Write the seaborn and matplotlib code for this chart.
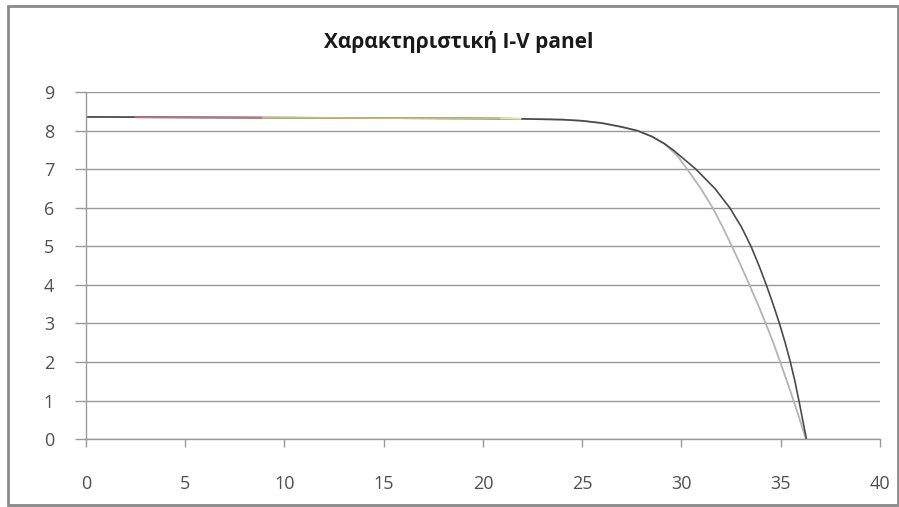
import matplotlib.pyplot as plt
import pandas as pd
import seaborn as sns
from matplotlib.patches import Rectangle

# Data
v_outer = [0, 5, 10, 15, 20, 22, 24, 25, 26, 27, 27.8, 28.52, 29.13, 29.59,
           30.74, 31.69, 32.44, 33.03, 33.51, 33.91, 34.28, 34.62, 34.94, 35.23,
           35.49, 35.72, 35.92, 36.11, 36.3]
i_outer = [8.36, 8.35, 8.34, 8.33, 8.32, 8.31, 8.29, 8.26, 8.2, 8.1, 8.0, 7.85,
           7.67, 7.5, 7.0, 6.5, 6.0, 5.5, 5.0, 4.5, 4.0, 3.5, 3.0, 2.5,
           2.0, 1.5, 1.0, 0.5, 0.0]
v_inner = [0, 5, 10, 15, 20, 22, 24, 25, 26, 27, 27.8, 28.52, 29.13, 29.8, 30.3,
           30.98, 31.58, 32.08, 32.55, 33.0, 33.43, 33.85, 34.25, 34.63, 34.98,
           35.32, 35.65, 35.97, 36.27]
i_inner = [8.36, 8.35, 8.34, 8.33, 8.32, 8.31, 8.29, 8.26, 8.2, 8.1, 8.0, 7.85,
           7.67, 7.35, 7.0, 6.5, 6.0, 5.5, 5.0, 4.5, 4.0, 3.5, 3.0, 2.5, 2.0,
           1.5, 1.0, 0.5, 0.0]
v_red = [2.5, 8.9]
i_red = [8.35, 8.34]
v_olive = [8.9, 20.9]
i_olive = [8.34, 8.32]
v_green = [20.9, 21.9]
i_green = [8.32, 8.31]

x_ticks = [0, 5, 10, 15, 20, 25, 30, 35, 40]
y_ticks = [0, 1, 2, 3, 4, 5, 6, 7, 8, 9]
title = "Χαρακτηριστική I-V panel"

sns.set_style("white")
plt.rcParams["font.family"] = ["Open Sans", "DejaVu Sans"]

fig = plt.figure(figsize=(8.99, 5.07), dpi=100)
ax = fig.add_axes([0.0957, 0.134, 0.883, 0.684])

# Grid lines
for y in y_ticks:
    ax.axhline(y, color="#9a9a9a", lw=1.0, zorder=0)

inner = pd.DataFrame({"V": v_inner, "I": i_inner})
outer = pd.DataFrame({"V": v_outer, "I": i_outer})
sns.lineplot(inner, x="V", y="I", sort=False, color="#b4b4b4", lw=1.3, ax=ax)
sns.lineplot(outer, x="V", y="I", sort=False, color="#4a4a4a", lw=1.2, ax=ax)
sns.lineplot(x=v_red, y=i_red, sort=False, color="#c07080", lw=1.3, ax=ax)
sns.lineplot(x=v_olive, y=i_olive, sort=False, color="#c4bc80", lw=1.3, ax=ax)
sns.lineplot(x=v_green, y=i_green, sort=False, color="#d6eca8", lw=1.3, ax=ax)

ax.set_xlim(0, 40)
ax.set_ylim(0, 9)
ax.set_xticks(x_ticks)
ax.set_yticks(y_ticks)
ax.set_xlabel("")
ax.set_ylabel("")
for side in ["top", "right"]:
    ax.spines[side].set_visible(False)
for side in ["left", "bottom"]:
    ax.spines[side].set_color("#9a9a9a")
    ax.spines[side].set_linewidth(1.0)
ax.tick_params(axis="both", which="major", width=1.0, color="#9a9a9a",
               labelsize=13, labelcolor="#505050", direction="out")
ax.tick_params(axis="x", length=6, pad=20)
ax.tick_params(axis="y", length=8, pad=15)
ax.yaxis.set_tick_params(left=True)
ax.xaxis.set_tick_params(bottom=True)

fig.text(0.51, 0.917, title, ha="center", va="center", fontsize=15,
         fontweight="bold", color="#1a1a1a")

# Outer frame of the chart
fig.patches.append(Rectangle((0.009, 0.004), 0.99, 0.985, transform=fig.transFigure,
                             fill=False, edgecolor="#8a8a8a", lw=2))

fig.savefig("out.png", dpi=100)
